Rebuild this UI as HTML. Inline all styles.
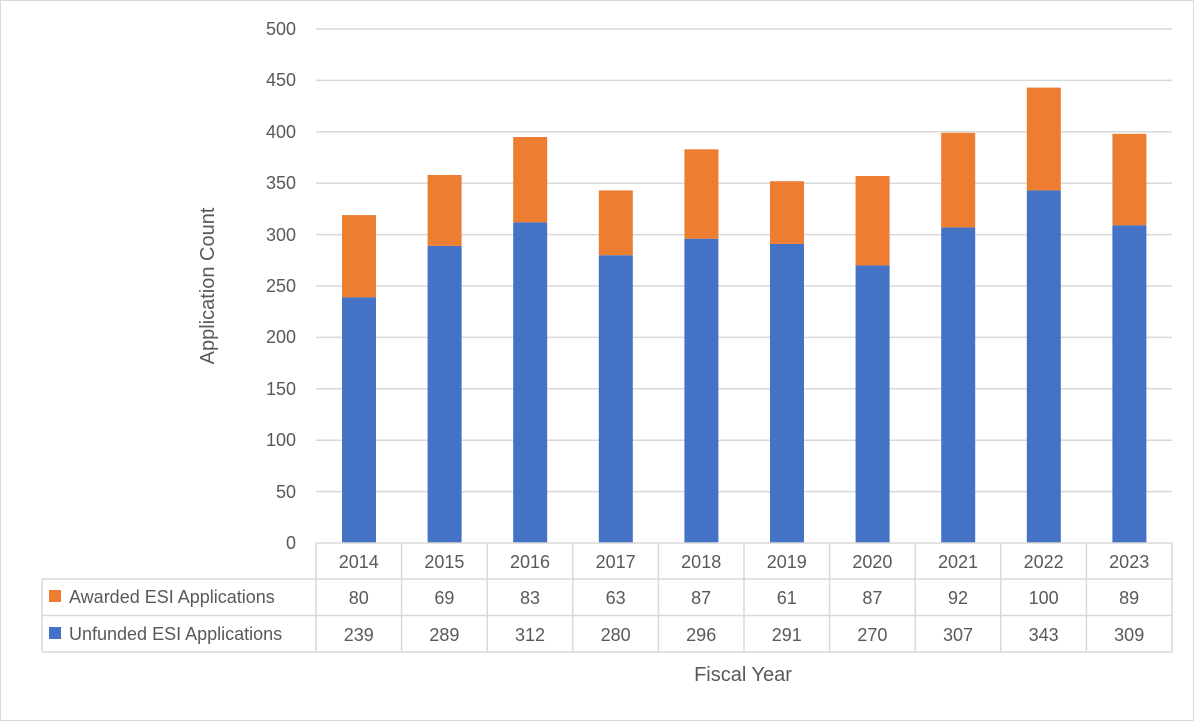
<!DOCTYPE html>
<html><head><style>body{margin:0;background:#fff}svg{display:block}text{font-family:"Liberation Sans",sans-serif;fill:#595959}</style></head><body>
<svg width="1200" height="722" xmlns="http://www.w3.org/2000/svg">
<rect x="0.5" y="0.5" width="1193" height="720" fill="#fff" stroke="#d9d9d9"/>
<g stroke="#d9d9d9" stroke-width="1.5">
<line x1="316" x2="1172" y1="29" y2="29"/><line x1="316" x2="1172" y1="80.4" y2="80.4"/><line x1="316" x2="1172" y1="131.8" y2="131.8"/><line x1="316" x2="1172" y1="183.2" y2="183.2"/><line x1="316" x2="1172" y1="234.6" y2="234.6"/><line x1="316" x2="1172" y1="286" y2="286"/><line x1="316" x2="1172" y1="337.4" y2="337.4"/><line x1="316" x2="1172" y1="388.8" y2="388.8"/><line x1="316" x2="1172" y1="440.2" y2="440.2"/><line x1="316" x2="1172" y1="491.6" y2="491.6"/>
</g>
<g font-size="18" text-anchor="end">
<text x="296" y="35">500</text><text x="296" y="86">450</text><text x="296" y="138">400</text><text x="296" y="189">350</text><text x="296" y="241">300</text><text x="296" y="292">250</text><text x="296" y="343">200</text><text x="296" y="395">150</text><text x="296" y="446">100</text><text x="296" y="498">50</text><text x="296" y="549">0</text>
</g>
<text transform="translate(214,286) rotate(-90)" font-size="20" text-anchor="middle">Application Count</text>
<g fill="#4472c4">
<rect x="342" y="297.3" width="34" height="245.7"/>
<rect x="427.6" y="245.9" width="34" height="297.1"/>
<rect x="513.2" y="222.3" width="34" height="320.7"/>
<rect x="598.8" y="255.2" width="34" height="287.8"/>
<rect x="684.4" y="238.7" width="34" height="304.3"/>
<rect x="770" y="243.9" width="34" height="299.1"/>
<rect x="855.6" y="265.4" width="34" height="277.6"/>
<rect x="941.2" y="227.4" width="34" height="315.6"/>
<rect x="1026.8" y="190.4" width="34" height="352.6"/>
<rect x="1112.4" y="225.3" width="34" height="317.7"/>
</g>
<g fill="#ed7d31">
<rect x="342" y="215.1" width="34" height="82.2"/>
<rect x="427.6" y="175" width="34" height="70.9"/>
<rect x="513.2" y="137" width="34" height="85.3"/>
<rect x="598.8" y="190.4" width="34" height="64.8"/>
<rect x="684.4" y="149.3" width="34" height="89.4"/>
<rect x="770" y="181.2" width="34" height="62.7"/>
<rect x="855.6" y="176" width="34" height="89.4"/>
<rect x="941.2" y="132.8" width="34" height="94.6"/>
<rect x="1026.8" y="87.6" width="34" height="102.8"/>
<rect x="1112.4" y="133.8" width="34" height="91.5"/>
</g>
<g stroke="#d9d9d9" stroke-width="1.5" fill="none">
<line x1="316" x2="1172" y1="543" y2="543"/>
<line x1="42" x2="1172" y1="579" y2="579"/>
<line x1="42" x2="1172" y1="615.5" y2="615.5"/>
<line x1="42" x2="1172" y1="652" y2="652"/>
<line x1="42" x2="42" y1="579" y2="652"/>
<line x1="316" x2="316" y1="543" y2="652"/><line x1="401.6" x2="401.6" y1="543" y2="652"/><line x1="487.2" x2="487.2" y1="543" y2="652"/><line x1="572.8" x2="572.8" y1="543" y2="652"/><line x1="658.4" x2="658.4" y1="543" y2="652"/><line x1="744" x2="744" y1="543" y2="652"/><line x1="829.6" x2="829.6" y1="543" y2="652"/><line x1="915.2" x2="915.2" y1="543" y2="652"/><line x1="1000.8" x2="1000.8" y1="543" y2="652"/><line x1="1086.4" x2="1086.4" y1="543" y2="652"/><line x1="1172" x2="1172" y1="543" y2="652"/>
</g>
<g font-size="18" text-anchor="middle">
<text x="358.8" y="568">2014</text><text x="444.4" y="568">2015</text><text x="530" y="568">2016</text><text x="615.6" y="568">2017</text><text x="701.2" y="568">2018</text><text x="786.8" y="568">2019</text><text x="872.4" y="568">2020</text><text x="958" y="568">2021</text><text x="1043.6" y="568">2022</text><text x="1129.2" y="568">2023</text>
<text x="358.8" y="604">80</text><text x="444.4" y="604">69</text><text x="530" y="604">83</text><text x="615.6" y="604">63</text><text x="701.2" y="604">87</text><text x="786.8" y="604">61</text><text x="872.4" y="604">87</text><text x="958" y="604">92</text><text x="1043.6" y="604">100</text><text x="1129.2" y="604">89</text>
<text x="358.8" y="641">239</text><text x="444.4" y="641">289</text><text x="530" y="641">312</text><text x="615.6" y="641">280</text><text x="701.2" y="641">296</text><text x="786.8" y="641">291</text><text x="872.4" y="641">270</text><text x="958" y="641">307</text><text x="1043.6" y="641">343</text><text x="1129.2" y="641">309</text>
</g>
<rect x="49" y="590" width="12" height="12" fill="#ed7d31"/>
<rect x="49" y="627" width="12" height="12" fill="#4472c4"/>
<text x="69" y="603" font-size="18">Awarded ESI Applications</text>
<text x="69" y="640" font-size="18">Unfunded ESI Applications</text>
<text x="743" y="681" font-size="20" text-anchor="middle">Fiscal Year</text>
</svg>
</body></html>
